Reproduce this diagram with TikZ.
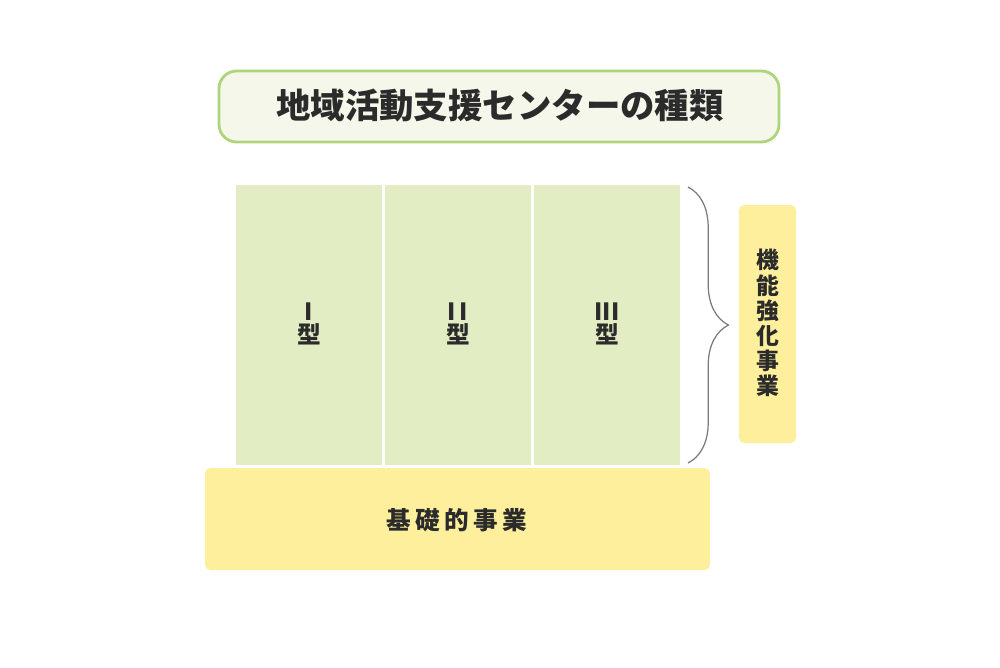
\documentclass[tikz,border=0pt]{standalone}
\usepackage{fontspec}
\newfontfamily\jp{Noto Sans CJK JP}
\usetikzlibrary{decorations.pathreplacing}
\definecolor{titleborder}{HTML}{AED57A}
\definecolor{titlefill}{HTML}{F5F7EA}
\definecolor{colfill}{HTML}{E3EDC4}
\definecolor{yel}{HTML}{FDEF9B}
\definecolor{txt}{HTML}{2B2B2B}
\definecolor{bracecol}{HTML}{7A7A7A}
\tikzset{
  px/.style={x=0.02cm,y=-0.02cm},
  typecol/.style={fill=colfill,draw=none},
  typelabel/.style={font=\jp\bfseries\fontsize{13.5}{15}\selectfont,text=txt,align=center},
}
\begin{document}
\begin{tikzpicture}[px]
\useasboundingbox (0,0) rectangle (1000,667);
\fill[white] (0,0) rectangle (1000,667);
% title
\draw[titleborder,line width=1.6pt,fill=titlefill,rounded corners=10pt] (219,71) rectangle (779,142);
\node[font=\jp\bfseries\fontsize{19.6}{22}\selectfont,text=txt] (title) at (500,106) {地域活動支援センターの種類};
% columns
\fill[typecol] (236,185) rectangle (382,465);
\fill[typecol] (385,185) rectangle (531,465);
\fill[typecol] (534,185) rectangle (680,465);
\node[typelabel] (t1) at (309,324) {I\\[-2pt]型};
\node[typelabel] (t2) at (458,324) {I\,I\\[-2pt]型};
\node[typelabel] (t3) at (607,324) {III\\[-2pt]型};
% brace
\coordinate (bt) at (688,187);
\coordinate (bb) at (688,463);
\draw[bracecol,line width=0.7pt,decorate,decoration={brace,amplitude=23pt,raise=0pt}] (bt) -- (bb);
% vertical box
\fill[yel,rounded corners=3pt] (739,205) rectangle (796,443);
\node[font=\jp\bfseries\fontsize{13}{14.3}\selectfont,text=txt,align=center] (kino) at (767.5,323) {機\\能\\強\\化\\事\\業};
% base box
\fill[yel,rounded corners=3pt] (205,468) rectangle (710,570);
\node[font=\jp\bfseries\fontsize{14}{16}\selectfont,text=txt] (kiso) at (457,520) {基\hspace{2.5pt}礎\hspace{2.5pt}的\hspace{2.5pt}事\hspace{2.5pt}業};
\end{tikzpicture}
\end{document}
